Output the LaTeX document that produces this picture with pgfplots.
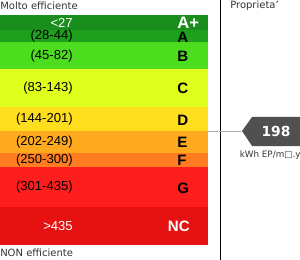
\documentclass[border=0pt]{standalone}
\usepackage{pgfplots}
\pgfplotsset{compat=1.18}
\usepackage{fontspec}
\setmainfont{DejaVu Sans}
\newfontfamily\arial{Liberation Sans}
\definecolor{caplus}{RGB}{26,142,28}
\definecolor{ca}{RGB}{30,160,30}
\definecolor{cb}{RGB}{76,222,30}
\definecolor{cc}{RGB}{222,255,28}
\definecolor{cd}{RGB}{255,222,30}
\definecolor{ce}{RGB}{255,170,30}
\definecolor{cf}{RGB}{255,125,32}
\definecolor{cg}{RGB}{255,30,30}
\definecolor{cnc}{RGB}{230,18,18}
\definecolor{mark}{RGB}{80,80,80}
\begin{document}
\begin{tikzpicture}
\path[use as bounding box, clip] (0,0) rectangle (225pt,195pt);
\begin{axis}[
  width=225pt, height=195pt, scale only axis,
  xmin=0, xmax=300, ymin=0, ymax=260, y dir=reverse,
  hide axis, clip=false,
]
\addplot[fill=caplus, draw=none] coordinates {(0,15) (208,15) (208,30) (0,30)} --cycle;
\addplot[fill=ca, draw=none] coordinates {(0,30) (208,30) (208,42) (0,42)} --cycle;
\addplot[fill=cb, draw=none] coordinates {(0,42) (208,42) (208,69) (0,69)} --cycle;
\addplot[fill=cc, draw=none] coordinates {(0,69) (208,69) (208,107) (0,107)} --cycle;
\addplot[fill=cd, draw=none] coordinates {(0,107) (208,107) (208,131) (0,131)} --cycle;
\addplot[fill=ce, draw=none] coordinates {(0,131) (208,131) (208,153) (0,153)} --cycle;
\addplot[fill=cf, draw=none] coordinates {(0,153) (208,153) (208,167) (0,167)} --cycle;
\addplot[fill=cg, draw=none] coordinates {(0,167) (208,167) (208,207) (0,207)} --cycle;
\addplot[fill=cnc, draw=none] coordinates {(0,207) (208,207) (208,245) (0,245)} --cycle;
% separator and pointer line
\addplot[black, line width=0.9pt] coordinates {(220.5,0) (220.5,260)};
\addplot[gray!60, line width=0.6pt] coordinates {(208,131) (242,131)};
\addplot[fill=mark, draw=none] coordinates {(242,131) (252,117) (300,117) (300,146) (252,146)} --cycle;
% range labels
\begin{scope}[every node/.style={anchor=east, inner sep=0pt, font=\arial\fontsize{9.8}{10}\selectfont}]
\node[text=white] at (axis cs:73,22.5) {<27};
\node at (axis cs:73,36) {(28-44)};
\node at (axis cs:73,56) {(45-82)};
\node at (axis cs:73,88) {(83-143)};
\node at (axis cs:73,119) {(144-201)};
\node at (axis cs:73,142) {(202-249)};
\node at (axis cs:73,160) {(250-300)};
\node at (axis cs:73,187) {(301-435)};
\node[text=white] at (axis cs:73,226) {>435};
\end{scope}
\begin{scope}[every node/.style={anchor=west, inner sep=0pt, font=\arial\bfseries\fontsize{11.3}{12}\selectfont}]
\node[text=white, font=\arial\bfseries\fontsize{12.5}{13}\selectfont] at (axis cs:177,22.5) {A+};
\node at (axis cs:177,37) {A};
\node at (axis cs:177,56) {B};
\node at (axis cs:177,88) {C};
\node at (axis cs:177,120) {D};
\node at (axis cs:177,142) {E};
\node at (axis cs:177,160) {F};
\node at (axis cs:177,188) {G};
\node[text=white, anchor=east] at (axis cs:190,226) {NC};
\end{scope}
\begin{scope}[every node/.style={inner sep=0pt, text=black!80, font=\fontsize{7.5}{8}\selectfont}]
\node[anchor=west] at (axis cs:0,6) {Molto efficiente};
\node[anchor=west] at (axis cs:0,253) {NON efficiente};
\node[anchor=west] at (axis cs:230,6) {Proprieta'};
\node[anchor=west, font=\fontsize{6.6}{7}\selectfont] at (axis cs:239.5,155) {kWh EP/m□.y};
\end{scope}
\node[inner sep=0pt, text=white, font=\bfseries\fontsize{10.4}{11}\selectfont] at (axis cs:276,131.5) {198};
\end{axis}
\end{tikzpicture}
\end{document}
